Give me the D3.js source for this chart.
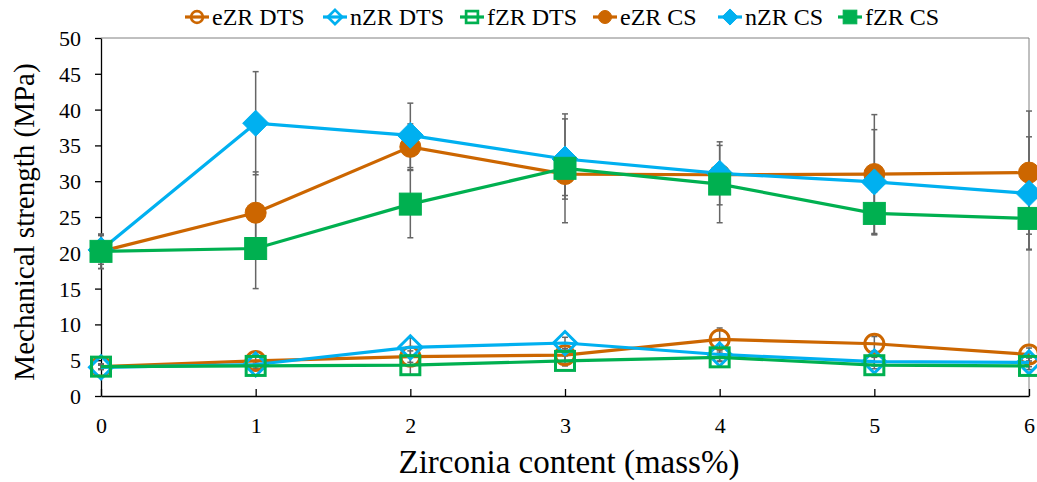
<!DOCTYPE html>
<html><head><meta charset="utf-8">
<script src="https://cdn.jsdelivr.net/npm/d3@7"></script>
<style>body{margin:0;background:#fff}svg{display:block}text{font-family:"Liberation Serif","Times New Roman",serif;fill:#000}</style>
</head><body><svg id="c" width="1037" height="482"></svg>
<script>
const xValues = [0, 1, 2, 3, 4, 5, 6];
const yTicks = [0, 5, 10, 15, 20, 25, 30, 35, 40, 45, 50];
const seriesNames = ["eZR DTS", "nZR DTS", "fZR DTS", "eZR CS", "nZR CS", "fZR CS"];
const eZR_DTS = [4.1, 4.9, 5.5, 5.7, 7.9, 7.3, 5.8];
const nZR_DTS = [4.0, 4.4, 6.8, 7.4, 5.8, 4.8, 4.7];
const fZR_DTS = [4.1, 4.2, 4.3, 4.9, 5.4, 4.3, 4.2];
const eZR_CS = [20.2, 25.6, 34.8, 31.0, 30.9, 31.0, 31.2];
const nZR_CS = [20.4, 38.1, 36.4, 33.1, 31.1, 29.9, 28.3];
const fZR_CS = [20.2, 20.6, 26.8, 31.8, 29.6, 25.5, 24.8];
const eZR_DTS_err = [0.4, 0.6, 0.8, 0.9, 1.6, 1.0, 0.9];
const nZR_DTS_err = [0.3, 0.5, 1.3, 0.8, 0.9, 0.6, 0.6];
const fZR_DTS_err = [0.3, 0.4, 1.4, 0.7, 0.6, 0.5, 0.5];
const eZR_CS_err = [2.4, 5.7, 3.2, 3.0, 0.9, 8.3, 8.6];
const nZR_CS_err = [2.0, 7.2, 4.5, 5.6, 4.4, 7.3, 7.9];
const fZR_CS_err = [2.4, 5.6, 4.7, 7.6, 5.4, 3.0, 4.3];

const colors = {e: "#CC6600", n: "#00B0F0", f: "#00B050"};
const series = [
  {name: seriesNames[0], vals: eZR_DTS, err: eZR_DTS_err, c: colors.e, shape: "circle", fill: false},
  {name: seriesNames[1], vals: nZR_DTS, err: nZR_DTS_err, c: colors.n, shape: "diamond", fill: false},
  {name: seriesNames[2], vals: fZR_DTS, err: fZR_DTS_err, c: colors.f, shape: "square", fill: false},
  {name: seriesNames[3], vals: eZR_CS, err: eZR_CS_err, c: colors.e, shape: "circle", fill: true},
  {name: seriesNames[4], vals: nZR_CS, err: nZR_CS_err, c: colors.n, shape: "diamond", fill: true},
  {name: seriesNames[5], vals: fZR_CS, err: fZR_CS_err, c: colors.f, shape: "square", fill: true}
];

const svg = d3.select("#c");
const L = 101, R = 1029, T = 38, B = 396;
const x = d3.scaleLinear().domain([0, 6]).range([L, R]);
const y = d3.scaleLinear().domain([0, 50]).range([B, T]);

// plot border (top/right)
svg.append("path").attr("d", `M${L},${T}H${R}V${B}`).attr("fill", "none").attr("stroke", "#808080").attr("stroke-width", 1);

// y axis
const ya = svg.append("g").attr("transform", `translate(${L},0)`)
  .call(d3.axisLeft(y).tickValues(yTicks).tickSize(6).tickSizeOuter(0).tickPadding(14));
ya.select(".domain").attr("stroke", "#000").attr("stroke-width", 1.3);
ya.selectAll(".tick line").attr("stroke", "#000").attr("stroke-width", 1.3);
ya.selectAll("text").style("font-size", "22px").attr("dy", "0.34em");

// x axis
const xa = svg.append("g").attr("transform", `translate(0,${B})`)
  .call(d3.axisBottom(x).tickValues(xValues).tickSize(-7).tickSizeOuter(0).tickPadding(21).tickFormat(d3.format("d")));
xa.select(".domain").attr("stroke", "#000").attr("stroke-width", 1.3);
xa.selectAll(".tick line").attr("stroke", "#000").attr("stroke-width", 1.3);
xa.selectAll("text").style("font-size", "22px");

// axis titles
svg.append("text").attr("transform", "translate(34,222) rotate(-90)").attr("text-anchor", "middle")
  .style("font-size", "29px").text("Mechanical strength (MPa)");
svg.append("text").attr("x", 569).attr("y", 473).attr("text-anchor", "middle")
  .style("font-size", "33px").text("Zirconia content (mass%)");

// error bars
const eg = svg.append("g");
series.forEach(s => {
  s.vals.forEach((v, i) => {
    const e = s.err[i];
    const cx = x(xValues[i]);
    eg.append("line").attr("x1", cx).attr("x2", cx).attr("y1", y(v - e)).attr("y2", y(v + e))
      .attr("stroke", "#666").attr("stroke-width", 1.5);
    [v - e, v + e].forEach(w => eg.append("line").attr("x1", cx - 3).attr("x2", cx + 3).attr("y1", y(w)).attr("y2", y(w))
      .attr("stroke", "#666").attr("stroke-width", 1.5));
  });
});

function marker(g, s, cx, cy, scale) {
  const k = scale || 1;
  let el;
  if (s.shape === "circle") {
    el = g.append("circle").attr("cx", cx).attr("cy", cy).attr("r", (s.fill ? 10.5 : 9.5) * k);
  } else if (s.shape === "diamond") {
    const r = (s.fill ? 13 : 11.5) * k;
    el = g.append("path").attr("d", `M${cx},${cy - r}L${cx + r},${cy}L${cx},${cy + r}L${cx - r},${cy}Z`);
  } else {
    const h = (s.fill ? 11 : 9.5) * k;
    el = g.append("rect").attr("x", cx - h).attr("y", cy - h).attr("width", 2 * h).attr("height", 2 * h);
  }
  if (s.fill) el.attr("fill", s.c).attr("stroke", s.c).attr("stroke-width", 1);
  else el.attr("fill", "none").attr("stroke", s.c).attr("stroke-width", 3 * (k < 1 ? 0.9 : 1));
}

const line = d3.line().x((d, i) => x(xValues[i])).y(d => y(d));
series.forEach(s => {
  const g = svg.append("g");
  g.append("path").datum(s.vals).attr("d", line).attr("fill", "none").attr("stroke", s.c).attr("stroke-width", 3.2);
  s.vals.forEach((v, i) => marker(g, s, x(xValues[i]), y(v)));
});

// legend
const legX = [197, 335, 472, 605, 730, 850];
const lg = svg.append("g");
series.forEach((s, i) => {
  const cx = legX[i], cy = 17;
  lg.append("line").attr("x1", cx - 12).attr("x2", cx + 12).attr("y1", cy).attr("y2", cy).attr("stroke", s.c).attr("stroke-width", 3.2);
  marker(lg, s, cx, cy, 0.62);
  lg.append("text").attr("x", cx + 15).attr("y", cy + 8).style("font-size", "24px").text(s.name);
});
</script></body></html>
